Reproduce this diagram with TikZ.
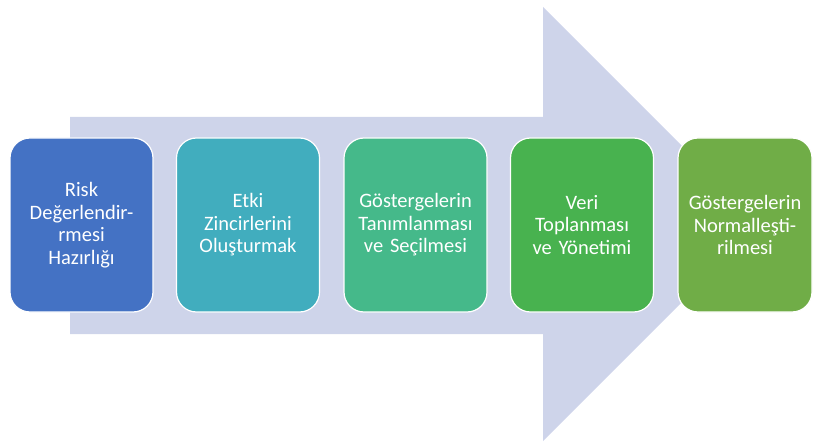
\documentclass[tikz,border=0pt]{standalone}
\usepackage{fontspec}
\setmainfont{Carlito}
\definecolor{arrowfill}{HTML}{CED4EA}
\definecolor{stepA}{HTML}{4472C4}
\definecolor{stepB}{HTML}{41ADBE}
\definecolor{stepC}{HTML}{45B98A}
\definecolor{stepD}{HTML}{48B24F}
\definecolor{stepE}{HTML}{70AD47}
\begin{document}
\begin{tikzpicture}[x=1pt,y=1pt,
  stepbox/.style={draw=white, line width=1.2pt, rounded corners=20pt,
    minimum width=143pt, minimum height=174pt, text width=140pt,
    align=center, text=white, inner sep=0pt,
    font=\fontsize{20.5}{22.5}\selectfont}]
\useasboundingbox (0,0) rectangle (813,442);
% large background arrow
\fill[arrowfill] (70,325) -- (543,325) -- (543,435) -- (760,218)
  -- (543,1) -- (543,108) -- (70,108) -- cycle;
% process steps
\node[stepbox, fill=stepA] (s1) at (81.5,217) {Risk\\Değerlendir-\\rmesi\\Hazırlığı};
\node[stepbox, fill=stepB] (s2) at (248,217) {Etki\\Zincirlerini\\Oluşturmak};
\node[stepbox, fill=stepC] (s3) at (415.5,217) {Göstergelerin\\Tanımlanması\\ve Seçilmesi};
\node[stepbox, fill=stepD] (s4) at (582,217) {Veri\\Toplanması\\ve Yönetimi};
\node[stepbox, fill=stepE, minimum width=134pt, text width=134pt] (s5) at (745,217) {Göstergelerin\\Normalleşti-\\rilmesi};
\end{tikzpicture}
\end{document}
